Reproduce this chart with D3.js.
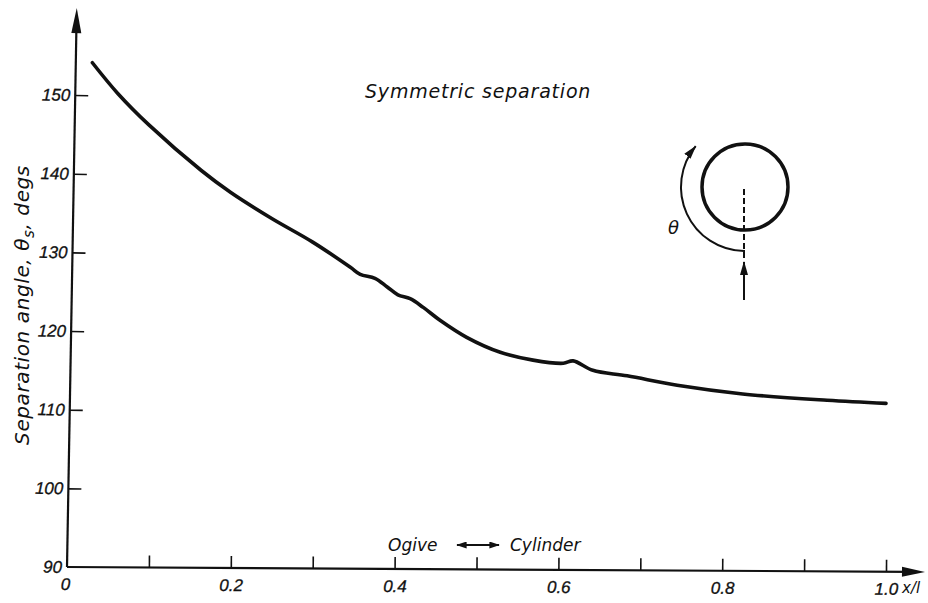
<!DOCTYPE html>
<html>
<head>
<meta charset="utf-8">
<script src="https://cdn.jsdelivr.net/npm/d3@7"></script>
<style>
  html, body { margin: 0; padding: 0; background: #fff; }
  svg { display: block; }
  .lbl { font-family: "DejaVu Sans", "Liberation Sans", sans-serif; font-style: italic; fill: #111; }
  .tick text { font-family: "Liberation Sans", "DejaVu Sans", sans-serif; font-style: italic; font-size: 17px; fill: #111; stroke: #111; stroke-width: 0.3px; }
</style>
</head>
<body>
<script>
// Separation angle along the body (ogive then cylinder)
const xPos = [0.031, 0.062, 0.1, 0.164, 0.2, 0.25, 0.3, 0.346, 0.358,
              0.376, 0.391, 0.404, 0.419, 0.435, 0.455, 0.488, 0.529, 0.569, 0.606, 0.618, 0.642,
              0.684, 0.745, 0.825, 0.928, 1.0];
const angle = [154.1, 150.2, 146.2, 140.4, 137.6, 134.3, 131.3, 128.1, 127.2,
               126.7, 125.6, 124.6, 124.1, 123.0, 121.4, 119.2, 117.3, 116.3, 115.9, 116.2, 115.0,
               114.3, 113.1, 112.0, 111.2, 110.8];
const xTicks = [0, 0.1, 0.2, 0.3, 0.4, 0.5, 0.6, 0.7, 0.8, 0.9, 1.0];
const xTickLabels = ["0", "", "0.2", "", "0.4", "", "0.6", "", "0.8", "", "1.0"];
const yTicks = [90, 100, 110, 120, 130, 140, 150];

const W = 928, H = 603;
const ox = 67, oy = 567;

const x = d3.scaleLinear().domain([0, 1]).range([ox, 886]);
const y = d3.scaleLinear().domain([90, 150]).range([oy, 95]);

const svg = d3.select("body").append("svg").attr("width", W).attr("height", H);

const defs = svg.append("defs");
defs.append("marker").attr("id", "head").attr("viewBox", "0 0 14 8")
  .attr("refX", 13).attr("refY", 4).attr("markerWidth", 14).attr("markerHeight", 8)
  .attr("markerUnits", "userSpaceOnUse").attr("orient", "auto")
  .append("path").attr("d", "M0,0 L14,4 L0,8 Z").attr("fill", "#111");
defs.append("marker").attr("id", "headSmall").attr("viewBox", "0 0 12 8")
  .attr("refX", 11).attr("refY", 4).attr("markerWidth", 12).attr("markerHeight", 7)
  .attr("markerUnits", "userSpaceOnUse").attr("orient", "auto-start-reverse")
  .append("path").attr("d", "M0,0 L12,4 L0,8 Z").attr("fill", "#111");

// x axis (slightly skewed like the hand-drawn original)
const gx = svg.append("g").attr("transform", `rotate(0.33, ${ox}, ${oy}) translate(0, ${oy})`);
gx.call(d3.axisBottom(x).tickValues(xTicks)
    .tickFormat((d, i) => xTickLabels[i])
    .tickSizeInner(-12).tickSizeOuter(0).tickPadding(11));
gx.select(".domain").remove();
gx.selectAll(".tick line").attr("stroke", "#111").attr("stroke-width", 1.6)
  .filter(d => d === 0).remove();
gx.selectAll(".tick text").filter(d => d === 0).attr("dx", "-2");
gx.append("line").attr("x1", ox).attr("x2", 910).attr("y1", 0).attr("y2", 0)
  .attr("stroke", "#111").attr("stroke-width", 2.2);
gx.append("path").attr("d", `M925,0 L902,-5 L902,5 Z`).attr("fill", "#111");

// y axis
const gy = svg.append("g").attr("transform", `rotate(1, ${ox}, ${oy}) translate(${ox}, 0)`);
gy.call(d3.axisLeft(y).tickValues(yTicks).tickFormat(d3.format("d"))
    .tickSizeInner(-13).tickSizeOuter(0).tickPadding(5));
gy.select(".domain").remove();
gy.selectAll(".tick line").attr("stroke", "#111").attr("stroke-width", 1.6)
  .filter(d => d === 90).remove();
gy.append("line").attr("x1", 0).attr("x2", 0).attr("y1", oy).attr("y2", 20)
  .attr("stroke", "#111").attr("stroke-width", 2.2);
gy.append("path").attr("d", "M0,8 L-5,33 L5,33 Z").attr("fill", "#111");

// data curve
const line = d3.line().x((d, i) => x(xPos[i])).y(d => y(d)).curve(d3.curveCatmullRom.alpha(0.5));
svg.append("path").datum(angle).attr("d", line)
  .attr("fill", "none").attr("stroke", "#111").attr("stroke-width", 3.6)
  .attr("stroke-linecap", "round").attr("stroke-linejoin", "round");

// titles and labels
svg.append("text").attr("class", "lbl").attr("x", 365).attr("y", 98)
  .attr("font-size", 19).attr("letter-spacing", 0.8).text("Symmetric separation");

const yl = svg.append("text").attr("class", "lbl").attr("font-size", 20)
  .attr("letter-spacing", 0.6).attr("text-anchor", "middle")
  .attr("transform", "translate(29, 305) rotate(-90)");
yl.append("tspan").text("Separation angle, θ");
yl.append("tspan").attr("font-size", 15).attr("dy", 5).text("s");
yl.append("tspan").attr("dy", -5).text(", degs");

svg.append("text").attr("class", "lbl").attr("x", 388).attr("y", 551)
  .attr("font-size", 17).text("Ogive");
svg.append("text").attr("class", "lbl").attr("x", 510).attr("y", 551)
  .attr("font-size", 17).text("Cylinder");
svg.append("line").attr("x1", 457).attr("x2", 499).attr("y1", 545).attr("y2", 545)
  .attr("stroke", "#111").attr("stroke-width", 2)
  .attr("marker-start", "url(#headSmall)").attr("marker-end", "url(#headSmall)");

svg.append("text").attr("class", "lbl").attr("x", 902).attr("y", 593)
  .attr("font-size", 15).text("x/l");

// inset sketch: cylinder cross-section with angle θ
const cx = 745, cy = 187;
svg.append("circle").attr("cx", cx).attr("cy", cy).attr("r", 43)
  .attr("fill", "none").attr("stroke", "#111").attr("stroke-width", 3.5);
svg.append("line").attr("x1", cx - 1).attr("x2", cx - 1).attr("y1", cy + 2).attr("y2", cy + 72)
  .attr("stroke", "#111").attr("stroke-width", 2).attr("stroke-dasharray", "6,3");
const ar = 64, a0 = Math.PI / 2, a1 = Math.PI * 1.22;
svg.append("path")
  .attr("d", `M${cx - 1},${cy + 65} L${cx + ar * Math.cos(a0) - 1},${cy + ar * Math.sin(a0)} ` +
             `A${ar},${ar} 0 0 1 ${cx + ar * Math.cos(a1)},${cy + ar * Math.sin(a1)}`)
  .attr("fill", "none").attr("stroke", "#111").attr("stroke-width", 2)
  .attr("marker-end", "url(#head)");
svg.append("line").attr("x1", cx - 1).attr("x2", cx - 1).attr("y1", 300).attr("y2", 262)
  .attr("stroke", "#111").attr("stroke-width", 2).attr("marker-end", "url(#head)");
svg.append("text").attr("class", "lbl").attr("x", 668).attr("y", 234)
  .attr("font-size", 18).text("θ");
</script>
</body>
</html>
